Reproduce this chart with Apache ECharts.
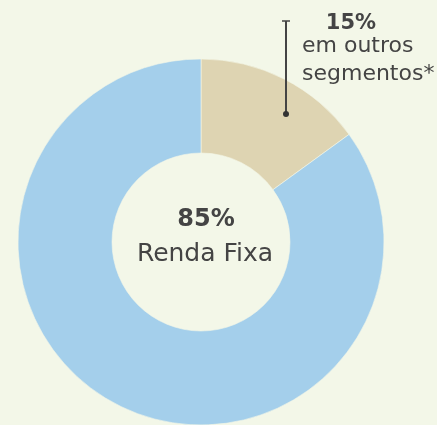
<!DOCTYPE html>
<html>
<head>
<meta charset="utf-8">
<script src="https://cdn.jsdelivr.net/npm/echarts@6/dist/echarts.min.js"></script>
<style>
  html, body { margin: 0; padding: 0; background: #f3f7e8; }
  #chart { width: 437px; height: 425px; }
</style>
</head>
<body>
<div id="chart"></div>
<script>
const categories = ['em outros segmentos*', 'Renda Fixa']
const values = [15, 85]
const colors = ['#ded4b2', '#a4cfeb']

const textColor = '#444444'
const font = '"DejaVu Sans", "Noto Sans", sans-serif'

const chart = echarts.init(document.getElementById('chart'))

chart.setOption({
  backgroundColor: '#f3f7e8',
  animation: false,
  series: [
    {
      type: 'pie',
      center: [201, 242],
      radius: [89, 183],
      startAngle: 90,
      clockwise: true,
      silent: true,
      z: 1,
      label: { show: false },
      labelLine: { show: false },
      itemStyle: { borderColor: '#f3f7e8', borderWidth: 0.6 },
      data: categories.map((name, i) => ({
        name,
        value: values[i],
        itemStyle: { color: colors[i] },
      })),
    },
  ],
  graphic: {
    elements: [
      // center label
      {
        type: 'text',
        z: 100,
        style: {
          text: values[1] + '%',
          x: 206,
          y: 220,
          align: 'center',
          verticalAlign: 'middle',
          fontFamily: font,
          fontWeight: 'bold',
          fontSize: 24,
          fill: textColor,
        },
      },
      {
        type: 'text',
        z: 100,
        style: {
          text: categories[1],
          x: 205,
          y: 254,
          align: 'center',
          verticalAlign: 'middle',
          fontFamily: font,
          fontSize: 25,
          fill: textColor,
        },
      },
      // annotation for the small slice
      {
        type: 'line',
        z: 100,
        shape: { x1: 286, y1: 21, x2: 286, y2: 114 },
        style: { stroke: '#444', lineWidth: 2 },
      },
      {
        type: 'line',
        z: 100,
        shape: { x1: 282, y1: 21, x2: 290, y2: 21 },
        style: { stroke: '#444', lineWidth: 1.5 },
      },
      {
        type: 'circle',
        z: 100,
        shape: { cx: 286, cy: 114, r: 3 },
        style: { fill: '#333' },
      },
      {
        type: 'text',
        z: 100,
        style: {
          text: values[0] + '%',
          x: 351,
          y: 24,
          align: 'center',
          verticalAlign: 'middle',
          fontFamily: font,
          fontWeight: 'bold',
          fontSize: 21,
          fill: textColor,
        },
      },
      {
        type: 'text',
        z: 100,
        style: {
          text: 'em outros',
          x: 302,
          y: 46,
          align: 'left',
          verticalAlign: 'middle',
          fontFamily: font,
          fontSize: 22,
          fill: textColor,
        },
      },
      {
        type: 'text',
        z: 100,
        style: {
          text: 'segmentos*',
          x: 302,
          y: 74,
          align: 'left',
          verticalAlign: 'middle',
          fontFamily: font,
          fontSize: 22,
          fill: textColor,
        },
      },
    ],
  },
})
</script>
</body>
</html>
